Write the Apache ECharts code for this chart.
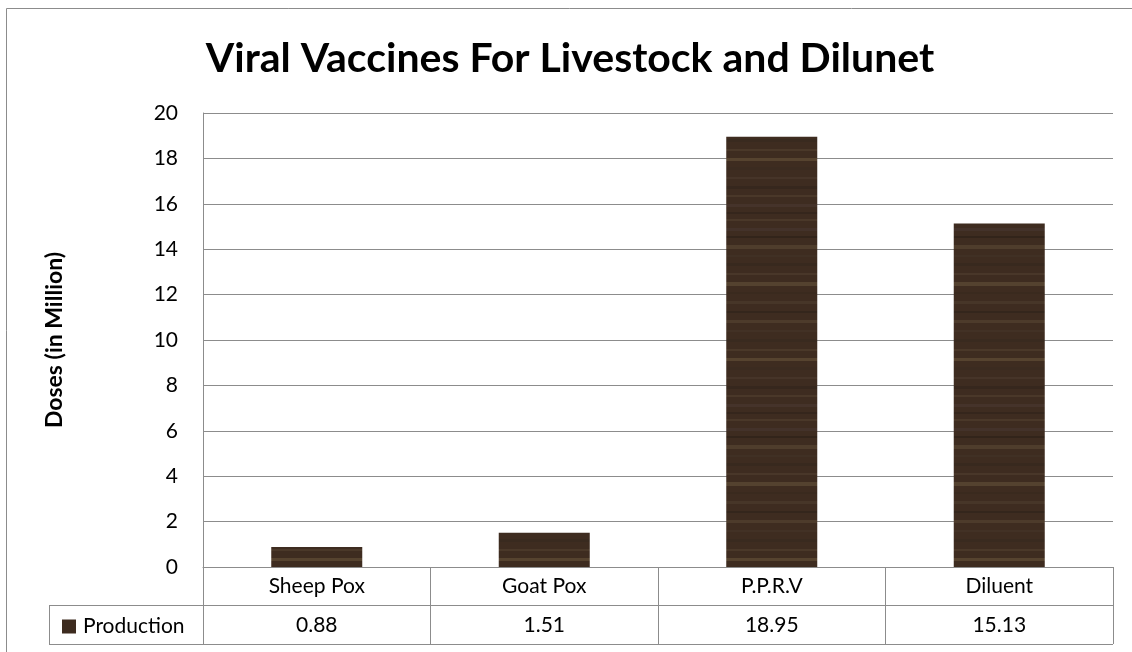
<!DOCTYPE html>
<html>
<head>
<meta charset="utf-8">
<script src="https://cdn.jsdelivr.net/npm/echarts@6/dist/echarts.min.js"></script>
<style>
html,body{margin:0;padding:0;background:#fff;}
#c{width:1132px;height:652px;}
</style>
</head>
<body>
<div id="c"></div>
<script>
const titleText = 'Viral Vaccines For Livestock and Dilunet';
const yAxisName = 'Doses (in Million)';
const seriesName = 'Production';
const categories = ['Sheep Pox', 'Goat Pox', 'P.P.R.V', 'Diluent'];
const production = [0.88, 1.51, 18.95, 15.13];
const yTicks = [0, 2, 4, 6, 8, 10, 12, 14, 16, 18, 20];

// wood-like texture for the bars (decoration only)
function woodPattern() {
  const cv = document.createElement('canvas');
  cv.width = 120; cv.height = 200;
  const ctx = cv.getContext('2d');
  ctx.fillStyle = '#3e2c20';
  ctx.fillRect(0, 0, 120, 200);
  const streaks = [
    [4, '#45332a', 3], [12, '#35261c', 2], [19, '#4a3829', 2], [28, '#43322a', 3],
    [36, '#32241a', 2], [45, '#4f3d2c', 4], [55, '#403024', 2], [63, '#38291e', 3],
    [73, '#493729', 2], [82, '#54422f', 4], [92, '#3a2a1e', 2], [101, '#473628', 3],
    [111, '#34261c', 2], [120, '#4d3b2b', 3], [130, '#423125', 2], [139, '#392a1f', 3],
    [149, '#4a3829', 2], [158, '#56432f', 3], [167, '#3b2b20', 3], [177, '#463428', 2],
    [186, '#36271d', 3], [195, '#4a3829', 2]
  ];
  streaks.forEach(s => {
    ctx.fillStyle = s[1];
    ctx.fillRect(0, s[0], 120, s[2]);
  });
  return cv;
}

const chart = echarts.init(document.getElementById('c'), null, {renderer: 'canvas'});
const FONT = 'Lato, "Open Sans", sans-serif';
const GRID = {left: 203, right: 19, top: 113, bottom: 85};
const lineCol = '#8c8c8c';
const plotBottom = 652 - GRID.bottom;   // 567
const row1Bottom = 605;
const row2Bottom = 644;
const plotRight = 1132 - GRID.right;    // 1113
const tableLeft = 49;
const FS = 21;

chart.setOption({
  backgroundColor: '#fff',
  animation: false,
  title: {
    text: titleText,
    left: 565, top: 33, textAlign: 'center',
    textStyle: {fontFamily: FONT, fontWeight: 'bold', fontSize: 41, color: '#000'}
  },
  legend: {
    left: 57, top: 611,
    itemWidth: 14, itemHeight: 14, itemGap: 5,
    icon: 'rect',
    data: [{name: seriesName, itemStyle: {color: '#3d2b1f'}}],
    textStyle: {fontFamily: FONT, fontSize: FS, color: '#000', padding: [0, 0, 0, 2]},
    selectedMode: false
  },
  grid: GRID,
  xAxis: {
    type: 'category',
    data: categories,
    axisLine: {show: true, lineStyle: {color: lineCol, width: 1}},
    axisTick: {show: true, interval: 0, alignWithLabel: false, length: row2Bottom - plotBottom, lineStyle: {color: lineCol}},
    axisLabel: {
      interval: 0, margin: 0,
      formatter: function (v, i) { return '{a|' + v + '}\n{a|' + production[i] + '}'; },
      rich: {a: {fontFamily: FONT, fontSize: FS, color: '#000', lineHeight: 39, height: 39}}
    }
  },
  yAxis: {
    type: 'value',
    min: yTicks[0], max: yTicks[yTicks.length - 1], interval: yTicks[1] - yTicks[0],
    name: yAxisName,
    nameLocation: 'middle', nameGap: 137, nameRotate: 90,
    nameTextStyle: {fontFamily: FONT, fontWeight: 'bold', fontSize: 23, color: '#000'},
    axisLine: {show: true, lineStyle: {color: lineCol}},
    axisTick: {show: false},
    axisLabel: {fontFamily: FONT, fontSize: FS, color: '#000', margin: 25},
    splitLine: {show: true, lineStyle: {color: lineCol, width: 1}}
  },
  series: [{
    name: seriesName,
    type: 'bar',
    data: production,
    barCategoryGap: '60%',
    itemStyle: {color: {image: woodPattern(), repeat: 'repeat'}}
  }],
  graphic: [
    {type: 'rect', shape: {x: 6.5, y: 8.5, width: 1200, height: 700}, style: {fill: null, stroke: '#8c8c8c', lineWidth: 1}, silent: true},
    {type: 'line', shape: {x1: tableLeft, y1: row1Bottom + 0.5, x2: plotRight, y2: row1Bottom + 0.5}, style: {stroke: lineCol, lineWidth: 1}, silent: true},
    {type: 'line', shape: {x1: tableLeft, y1: row2Bottom + 0.5, x2: plotRight, y2: row2Bottom + 0.5}, style: {stroke: lineCol, lineWidth: 1}, silent: true},
    {type: 'line', shape: {x1: tableLeft + 0.5, y1: row1Bottom, x2: tableLeft + 0.5, y2: row2Bottom}, style: {stroke: lineCol, lineWidth: 1}, silent: true}
  ]
});
</script>
</body>
</html>
